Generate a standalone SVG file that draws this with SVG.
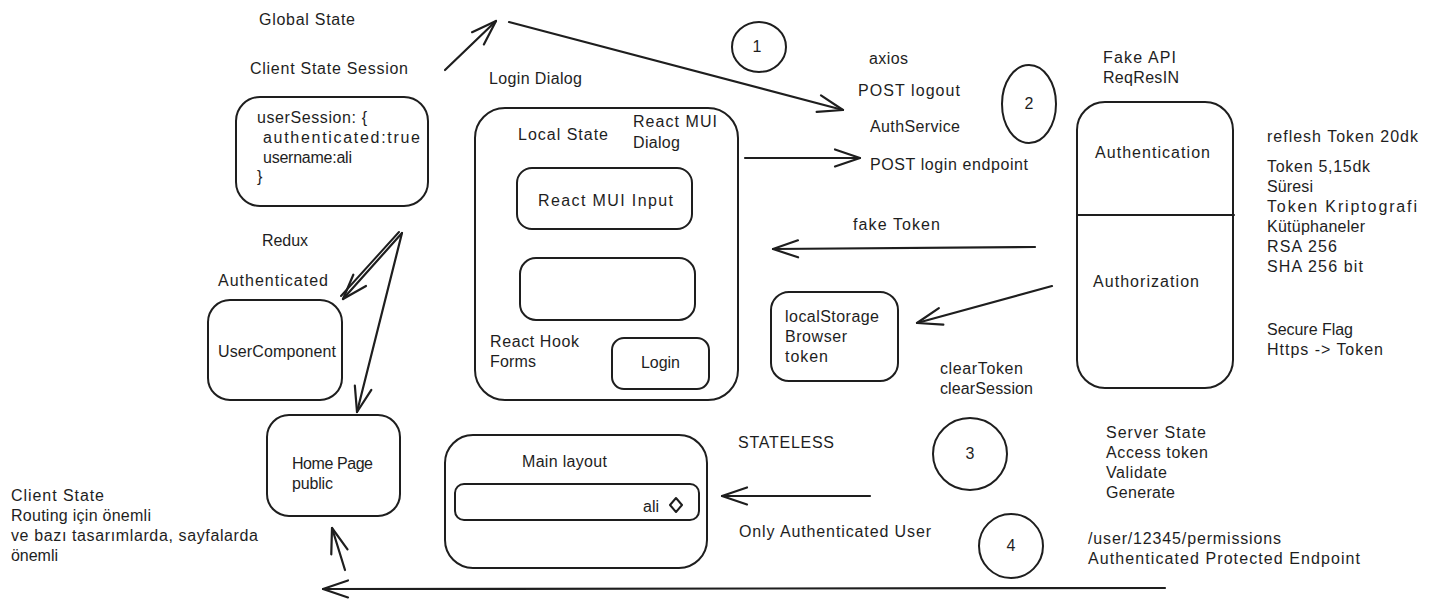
<svg xmlns="http://www.w3.org/2000/svg" width="1429" height="599" viewBox="0 0 1429 599">
<defs>
<style>
.t{font-family:"Liberation Sans","DejaVu Sans",sans-serif;font-size:16px;fill:#1e1e1e}
.c{text-anchor:middle}
.b{fill:none;stroke:#1e1e1e;stroke-width:2;stroke-linecap:round;stroke-linejoin:round}
.a{fill:none;stroke:#1e1e1e;stroke-width:2.2;stroke-linecap:round;marker-end:url(#ah)}
</style>
<marker id="ah" markerUnits="userSpaceOnUse" markerWidth="40" markerHeight="40" refX="0" refY="0" viewBox="-30 -20 40 40" orient="auto" overflow="visible">
<path d="M-25,-8.5 L0,0 L-25,8.5" fill="none" stroke="#1e1e1e" stroke-width="2.2" stroke-linecap="round" stroke-linejoin="round"/>
</marker>
</defs>
<rect width="1429" height="599" fill="#ffffff"/>

<g id="labels-top">
<text class="t" x="259" y="25" textLength="96">Global State</text>
<text class="t" x="250" y="74" textLength="158">Client State Session</text>
<text class="t" x="489" y="84" textLength="93">Login Dialog</text>
</g>

<g id="user-session">
<rect class="b" x="236" y="97" width="192" height="109" rx="24"/>
<text class="t" x="257" y="123" textLength="110">userSession: {</text>
<text class="t" x="263" y="143" textLength="157">authenticated:true</text>
<text class="t" x="263" y="163" textLength="89">username:ali</text>
<text class="t" x="257" y="182">}</text>
</g>

<g id="login-dialog">
<rect class="b" x="475" y="108" width="263" height="292" rx="30"/>
<text class="t" x="518" y="140" textLength="90">Local State</text>
<text class="t" x="633" y="127" textLength="84">React MUI</text>
<text class="t" x="633" y="148" textLength="47">Dialog</text>
<text class="t" x="490" y="347" textLength="89">React Hook</text>
<text class="t" x="490" y="367" textLength="46">Forms</text>
</g>
<g id="mui-input">
<rect class="b" x="517" y="168" width="175" height="61" rx="15"/>
<text class="t" x="538" y="206" textLength="135">React MUI Input</text>
</g>
<g id="empty-input">
<rect class="b" x="520" y="258" width="175" height="62" rx="16"/>
</g>
<g id="login-button">
<rect class="b" x="612" y="338" width="97" height="51" rx="12"/>
<text class="t" x="641" y="368" textLength="39">Login</text>
</g>

<g id="circle-1">
<ellipse class="b" cx="759" cy="47" rx="27" ry="25"/>
<text class="t c" x="757" y="52">1</text>
</g>
<g id="circle-2">
<ellipse class="b" cx="1029" cy="104" rx="27" ry="39"/>
<text class="t c" x="1029" y="109">2</text>
</g>
<g id="circle-3">
<ellipse class="b" cx="970" cy="454" rx="37" ry="36"/>
<text class="t c" x="970" y="459">3</text>
</g>
<g id="circle-4">
<ellipse class="b" cx="1011" cy="546" rx="32" ry="32"/>
<text class="t c" x="1011" y="551">4</text>
</g>

<g id="service-labels">
<text class="t" x="869" y="64" textLength="39">axios</text>
<text class="t" x="858" y="96" textLength="102">POST logout</text>
<text class="t" x="870" y="132" textLength="90">AuthService</text>
<text class="t" x="870" y="170" textLength="158">POST login endpoint</text>
<text class="t" x="1103" y="63" textLength="73">Fake API</text>
<text class="t" x="1103" y="83" textLength="76">ReqResIN</text>
</g>

<g id="auth-server">
<rect class="b" x="1077" y="102" width="156" height="286" rx="28"/>
<line class="b" x1="1077" y1="215" x2="1234" y2="215"/>
<text class="t" x="1095" y="158" textLength="115">Authentication</text>
<text class="t" x="1093" y="287" textLength="106">Authorization</text>
</g>

<g id="token-notes">
<text class="t" x="1267" y="142" textLength="151">reflesh Token 20dk</text>
<text class="t" x="1267" y="172" textLength="103">Token 5,15dk</text>
<text class="t" x="1267" y="192" textLength="46">Süresi</text>
<text class="t" x="1267" y="212" textLength="150">Token Kriptografi</text>
<text class="t" x="1267" y="232" textLength="98">Kütüphaneler</text>
<text class="t" x="1267" y="252" textLength="70">RSA 256</text>
<text class="t" x="1267" y="272" textLength="96">SHA 256 bit</text>
<text class="t" x="1267" y="335" textLength="86">Secure Flag</text>
<text class="t" x="1267" y="355" textLength="116">Https -&gt; Token</text>
</g>

<g id="fake-token-label">
<text class="t" x="853" y="230" textLength="87">fake Token</text>
</g>

<g id="local-storage">
<rect class="b" x="771" y="292" width="127" height="89" rx="18"/>
<text class="t" x="785" y="322" textLength="94">localStorage</text>
<text class="t" x="785" y="342" textLength="62">Browser</text>
<text class="t" x="785" y="362" textLength="43">token</text>
</g>

<g id="clear-labels">
<text class="t" x="940" y="374" textLength="83">clearToken</text>
<text class="t" x="940" y="394" textLength="93">clearSession</text>
</g>

<g id="redux-labels">
<text class="t" x="262" y="246" textLength="46">Redux</text>
<text class="t" x="218" y="286" textLength="110">Authenticated</text>
</g>

<g id="user-component">
<rect class="b" x="208" y="300" width="134" height="100" rx="22"/>
<text class="t" x="218" y="357" textLength="118">UserComponent</text>
</g>

<g id="home-page">
<rect class="b" x="267" y="415" width="133" height="101" rx="22"/>
<text class="t" x="292" y="469" textLength="81">Home Page</text>
<text class="t" x="292" y="489" textLength="41">public</text>
</g>

<g id="client-state-note">
<text class="t" x="11" y="501" textLength="93">Client State</text>
<text class="t" x="11" y="521" textLength="140">Routing için önemli</text>
<text class="t" x="11" y="541" textLength="247">ve bazı tasarımlarda, sayfalarda</text>
<text class="t" x="11" y="561" textLength="47">önemli</text>
</g>

<g id="main-layout">
<rect class="b" x="445" y="435" width="262" height="133" rx="28"/>
<text class="t" x="522" y="467" textLength="85">Main layout</text>
<rect class="b" x="455" y="484" width="244" height="36" rx="9"/>
<text class="t" x="643" y="512">ali</text>
<path class="b" d="M676,498 L682,505 L676,512 L670,505 Z"/>
</g>

<g id="stateless-labels">
<text class="t" x="738" y="448" textLength="96">STATELESS</text>
<text class="t" x="739" y="537" textLength="192">Only Authenticated User</text>
</g>

<g id="server-state-notes">
<text class="t" x="1106" y="438" textLength="100">Server State</text>
<text class="t" x="1106" y="458" textLength="102">Access token</text>
<text class="t" x="1106" y="478" textLength="61">Validate</text>
<text class="t" x="1106" y="498" textLength="69">Generate</text>
<text class="t" x="1088" y="544" textLength="193">/user/12345/permissions</text>
<text class="t" x="1088" y="564" textLength="272">Authenticated Protected Endpoint</text>
</g>

<g id="connectors">
<line class="a" x1="445" y1="70" x2="496" y2="21"/>
<line class="a" x1="509" y1="22" x2="843" y2="110"/>
<line class="a" x1="745" y1="158" x2="860" y2="158"/>
<line class="a" x1="1035" y1="247" x2="773" y2="249"/>
<line class="a" x1="1052" y1="286" x2="917" y2="323"/>
<line class="a" x1="402" y1="233" x2="343" y2="299"/>
<line class="b" x1="399" y1="232" x2="341" y2="296" stroke-width="1.2"/>
<line class="a" x1="402" y1="233" x2="357" y2="412"/>
<line class="a" x1="870" y1="496" x2="722" y2="496"/>
<line class="a" x1="345" y1="570" x2="332" y2="528"/>
<line class="a" x1="1165" y1="588" x2="323" y2="589"/>
</g>
</svg>
